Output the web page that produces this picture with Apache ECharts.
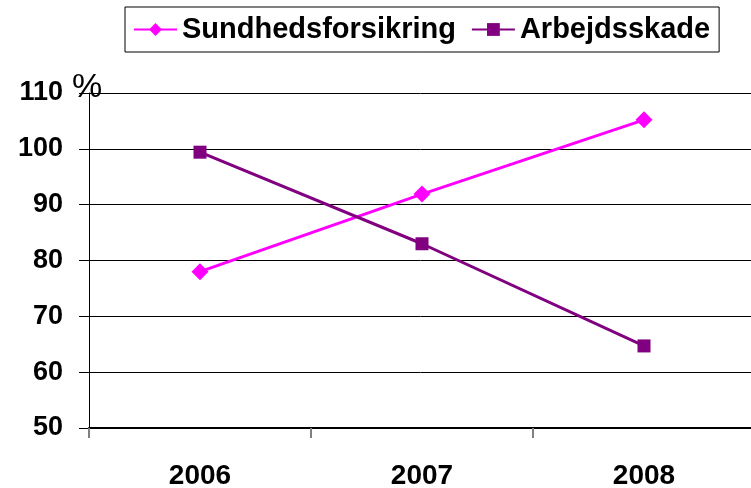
<!DOCTYPE html>
<html>
<head>
<meta charset="utf-8">
<script src="https://cdn.jsdelivr.net/npm/echarts@6/dist/echarts.min.js"></script>
<style>
  html, body { margin: 0; padding: 0; background: #fff; }
  #chart { width: 751px; height: 488px; }
</style>
</head>
<body>
<div id="chart"></div>
<script>
// data
const years = ["2006", "2007", "2008"];
const sundhedsforsikring = [78, 91.9, 105.2];
const arbejdsskade = [99.4, 83, 64.7];

const fontFamily = 'Arial, "Liberation Sans", sans-serif';

const chart = echarts.init(document.getElementById("chart"));

const option = {
  backgroundColor: "#fff",
  animation: false,
  textStyle: { fontFamily: fontFamily },
  legend: {
    left: 125,
    top: 7,
    padding: [8, 9, 8, 8],
    itemWidth: 43,
    itemHeight: 16,
    itemGap: 15,
    borderColor: "#000",
    borderWidth: 1,
    textStyle: {
      color: "#000",
      fontSize: 29,
      fontWeight: "bold",
      fontFamily: fontFamily
    },
    data: ["Sundhedsforsikring", "Arbejdsskade"]
  },
  grid: {
    left: 89,
    right: -4,
    top: 93,
    bottom: 60,
    containLabel: false,
    outerBoundsMode: "none"
  },
  xAxis: {
    type: "category",
    data: years,
    boundaryGap: true,
    axisLine: { lineStyle: { color: "#000", width: 2 } },
    axisTick: { show: true, length: 10, lineStyle: { color: "#808080", width: 2 } },
    axisLabel: {
      color: "#000",
      fontSize: 28,
      fontWeight: "bold",
      margin: 34
    },
    splitLine: { show: false }
  },
  yAxis: {
    type: "value",
    min: 50,
    max: 110,
    interval: 10,
    name: "%",
    nameLocation: "end",
    nameGap: -12,
    nameTextStyle: { color: "#000", fontSize: 34, fontWeight: "normal", padding: [0, 4, 0, 0] },
    axisLine: { show: true, lineStyle: { color: "#000", width: 1 } },
    axisTick: { show: true, length: 10, lineStyle: { color: "#000" } },
    axisLabel: {
      color: "#000",
      fontSize: 27,
      fontWeight: "bold",
      margin: 26
    },
    splitLine: { show: true, lineStyle: { color: "#000", width: 1 } }
  },
  series: [
    {
      name: "Sundhedsforsikring",
      type: "line",
      data: sundhedsforsikring,
      symbol: "diamond",
      symbolSize: 17,
      color: "#ff00ff",
      lineStyle: { width: 3, color: "#ff00ff" },
      itemStyle: { color: "#ff00ff" }
    },
    {
      name: "Arbejdsskade",
      type: "line",
      data: arbejdsskade,
      symbol: "rect",
      symbolSize: 13,
      color: "#800080",
      lineStyle: { width: 3, color: "#800080" },
      itemStyle: { color: "#800080" }
    }
  ]
};

chart.setOption(option);
</script>
</body>
</html>
